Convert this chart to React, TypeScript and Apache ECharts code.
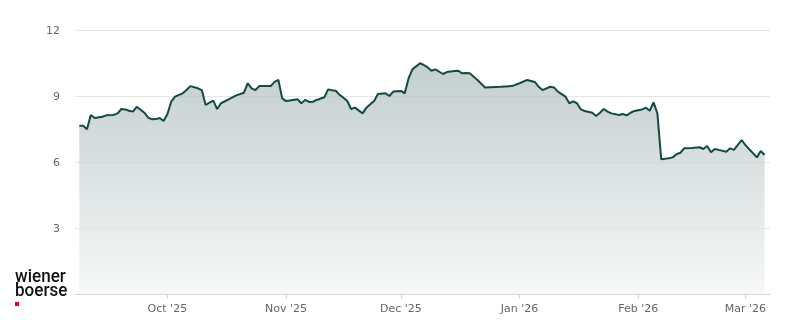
import React, { useEffect, useRef } from "react";
import * as echarts from "echarts";

const dates = [
  "2025-09-08", "2025-09-09", "2025-09-10", "2025-09-11", "2025-09-12", "2025-09-14", "2025-09-15", "2025-09-17", "2025-09-18", "2025-09-19",
  "2025-09-20", "2025-09-21", "2025-09-22", "2025-09-23", "2025-09-25", "2025-09-26", "2025-09-27", "2025-09-28", "2025-09-29", "2025-09-30",
  "2025-10-01", "2025-10-02", "2025-10-03", "2025-10-05", "2025-10-06", "2025-10-07", "2025-10-09", "2025-10-10", "2025-10-11", "2025-10-12",
  "2025-10-13", "2025-10-14", "2025-10-15", "2025-10-17", "2025-10-18", "2025-10-19", "2025-10-21", "2025-10-22", "2025-10-23", "2025-10-24",
  "2025-10-25", "2025-10-26", "2025-10-28", "2025-10-29", "2025-10-30", "2025-10-31",
  "2025-11-01", "2025-11-02", "2025-11-04", "2025-11-05", "2025-11-06", "2025-11-07", "2025-11-08", "2025-11-09", "2025-11-11", "2025-11-12",
  "2025-11-13", "2025-11-14", "2025-11-15", "2025-11-16", "2025-11-17", "2025-11-18", "2025-11-19", "2025-11-21", "2025-11-22", "2025-11-23",
  "2025-11-24", "2025-11-25", "2025-11-27", "2025-11-28", "2025-11-29",
  "2025-12-01", "2025-12-02", "2025-12-03", "2025-12-04", "2025-12-06", "2025-12-07", "2025-12-08", "2025-12-09", "2025-12-10", "2025-12-12",
  "2025-12-13", "2025-12-15", "2025-12-16", "2025-12-17", "2025-12-18", "2025-12-19", "2025-12-21", "2025-12-23", "2025-12-27", "2025-12-30",
  "2026-01-01", "2026-01-03", "2026-01-05", "2026-01-06", "2026-01-07", "2026-01-09", "2026-01-10", "2026-01-11", "2026-01-13", "2026-01-14",
  "2026-01-15", "2026-01-16", "2026-01-17", "2026-01-18", "2026-01-20", "2026-01-21", "2026-01-22", "2026-01-23", "2026-01-24", "2026-01-25",
  "2026-01-27", "2026-01-28", "2026-01-29", "2026-01-30", "2026-01-31",
  "2026-02-02", "2026-02-03", "2026-02-04", "2026-02-05", "2026-02-06", "2026-02-07", "2026-02-09", "2026-02-10", "2026-02-11", "2026-02-12",
  "2026-02-13", "2026-02-15", "2026-02-17", "2026-02-18", "2026-02-19", "2026-02-20", "2026-02-21", "2026-02-22", "2026-02-24", "2026-02-25",
  "2026-02-26", "2026-02-28",
  "2026-03-01", "2026-03-02", "2026-03-04", "2026-03-05", "2026-03-06",
];

const prices = [
  7.65, 7.65, 7.49, 8.14, 8.0, 8.06, 8.12, 8.14, 8.21, 8.41,
  8.39, 8.33, 8.29, 8.51, 8.24, 8.02, 7.94, 7.95, 8.0, 7.86,
  8.17, 8.74, 8.97, 9.12, 9.27, 9.45, 9.35, 9.27, 8.59, 8.7,
  8.79, 8.41, 8.67, 8.85, 8.94, 9.03, 9.15, 9.58, 9.35, 9.27,
  9.45, 9.45, 9.45, 9.64, 9.73, 8.89,
  8.77, 8.8, 8.85, 8.67, 8.82, 8.73, 8.74, 8.82, 8.94, 9.3,
  9.26, 9.24, 9.05, 8.92, 8.77, 8.41, 8.47, 8.21, 8.47, 8.62,
  8.77, 9.09, 9.12, 9.0, 9.2,
  9.23, 9.12, 9.8, 10.21, 10.49, 10.41, 10.3, 10.15, 10.21, 10.0,
  10.09, 10.14, 10.15, 10.03, 10.05, 10.03, 9.73, 9.39, 9.42, 9.45,
  9.58, 9.73, 9.64, 9.42, 9.27, 9.42, 9.39, 9.2, 8.97, 8.67,
  8.76, 8.67, 8.39, 8.32, 8.24, 8.09, 8.24, 8.41, 8.29, 8.21,
  8.14, 8.18, 8.12, 8.24, 8.32,
  8.39, 8.47, 8.33, 8.71, 8.21, 6.12, 6.17, 6.21, 6.35, 6.42,
  6.62, 6.64, 6.67, 6.59, 6.73, 6.44, 6.59, 6.55, 6.47, 6.62,
  6.55, 7.0,
  6.77, 6.58, 6.21, 6.5, 6.32,
];

const xRange = ["2025-09-06 21:00", "2026-03-07 10:00"];
const yMin = 0;
const yMax = 12;
const yStep = 3;
const monthNames = ["Jan", "Feb", "Mar", "Apr", "May", "Jun", "Jul", "Aug", "Sep", "Oct", "Nov", "Dec"];
const logoLines = ["wiener", "boerse"];

const DAY = 86400000;

export default function App() {
  const ref = useRef<HTMLDivElement>(null);
  useEffect(() => {
    const chart = echarts.init(ref.current!, null, { renderer: "svg" });
    const data = dates.map((d, i) => [d, prices[i]]);
    chart.setOption({
      animation: false,
      grid: { left: 75, right: 30, top: 30, bottom: 30 },
      xAxis: {
        type: "time",
        min: xRange[0],
        max: xRange[1],
        splitNumber: 6,
        minInterval: 28 * DAY,
        maxInterval: 31 * DAY,
        axisLine: { lineStyle: { color: "#ccd6eb", width: 1 } },
        axisTick: { show: true, length: 5, lineStyle: { color: "#ccd6eb" } },
        splitLine: { show: false },
        axisLabel: {
          color: "#666666",
          fontSize: 11,
          fontFamily: "DejaVu Sans",
          margin: 9,
          formatter: (v: number) => {
            const d = new Date(v);
            if (d.getDate() !== 1) return "";
            return monthNames[d.getMonth()] + " '" + String(d.getFullYear()).slice(2);
          },
        },
      },
      yAxis: {
        type: "value",
        min: yMin,
        max: yMax,
        interval: yStep,
        axisLine: { show: false },
        axisTick: { show: false },
        splitLine: { lineStyle: { color: "#e6e6e6", width: 1 } },
        axisLabel: {
          color: "#666666",
          fontSize: 11,
          fontFamily: "DejaVu Sans",
          margin: 15,
          showMinLabel: false,
        },
      },
      graphic: [
        {
          type: "text",
          left: 15,
          top: 267,
          style: { text: logoLines[0], fill: "#111111", font: "500 18px Roboto" },
          scaleX: 0.95,
        },
        {
          type: "text",
          left: 15,
          top: 281,
          style: { text: logoLines[1], fill: "#111111", font: "500 18px Roboto" },
          scaleX: 0.95,
        },
        {
          type: "rect",
          left: 15,
          top: 302,
          shape: { width: 4, height: 4 },
          style: { fill: "#e30613" },
        },
      ],
      series: [
        {
          type: "line",
          data,
          showSymbol: false,
          symbol: "none",
          lineStyle: { color: "#134a44", width: 2 },
          areaStyle: {
            color: new echarts.graphic.LinearGradient(0, 0, 0, 1, [
              { offset: 0, color: "#a9bab8" },
              { offset: 1, color: "#f3f5f5" },
            ]),
          },
        },
      ],
    });
    return () => chart.dispose();
  }, []);
  return <div ref={ref} style={{ position: "fixed", left: 0, top: 0, width: 800, height: 324 }} />;
}
